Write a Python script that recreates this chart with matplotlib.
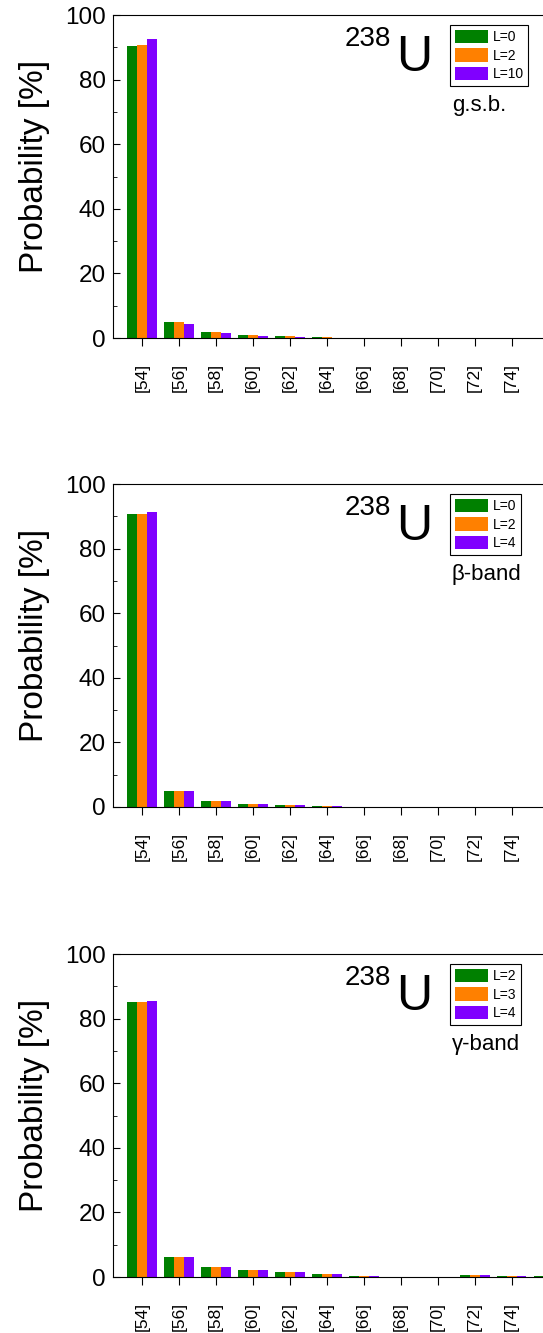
import numpy as np
import matplotlib
matplotlib.use('Agg')
import matplotlib.pyplot as plt
from matplotlib.ticker import MultipleLocator

plt.rcParams['font.family'] = ['Liberation Sans', 'DejaVu Sans']

categories = ['[54]', '[56]', '[58]', '[60]', '[62]', '[64]', '[66]', '[68]', '[70]', '[72]', '[74]', '[76]']

# g.s.b.
gsb_L0 = [90.5, 4.9, 1.8, 1.0, 0.6, 0.3, 0.1, 0.05, 0.05, 0.1, 0.1, 0.05]
gsb_L2 = [90.8, 4.9, 1.8, 1.0, 0.55, 0.3, 0.1, 0.05, 0.05, 0.1, 0.1, 0.05]
gsb_L10 = [92.5, 4.3, 1.45, 0.7, 0.4, 0.15, 0.05, 0.03, 0.03, 0.1, 0.1, 0.05]

# beta band
beta_L0 = [90.7, 4.9, 1.9, 1.0, 0.6, 0.35, 0.1, 0.05, 0.05, 0.1, 0.1, 0.05]
beta_L2 = [90.8, 4.9, 1.8, 1.0, 0.6, 0.3, 0.1, 0.05, 0.05, 0.1, 0.1, 0.05]
beta_L4 = [91.2, 4.8, 1.8, 0.95, 0.5, 0.3, 0.1, 0.05, 0.05, 0.1, 0.1, 0.05]

# gamma band
gam_L2 = [85.0, 6.2, 3.1, 2.1, 1.45, 0.8, 0.4, 0.1, 0.15, 0.6, 0.4, 0.4]
gam_L3 = [85.2, 6.2, 3.1, 2.1, 1.4, 0.8, 0.4, 0.1, 0.15, 0.6, 0.4, 0.4]
gam_L4 = [85.5, 6.2, 3.1, 2.1, 1.4, 0.8, 0.4, 0.1, 0.15, 0.6, 0.4, 0.4]

colors = ['#008000', '#ff8000', '#8000ff']

panels = [
    (0.7464, [gsb_L0, gsb_L2, gsb_L10], ['L=0', 'L=2', 'L=10'], 'g.s.b.'),
    (0.3946, [beta_L0, beta_L2, beta_L4], ['L=0', 'L=2', 'L=4'], 'β-band'),
    (0.042, [gam_L2, gam_L3, gam_L4], ['L=2', 'L=3', 'L=4'], 'γ-band'),
]

fig = plt.figure(figsize=(5.43, 13.33), dpi=100)
x = np.arange(len(categories))
w = 0.27

for bottom, series, labels, band in panels:
    ax = fig.add_axes([0.208, bottom, 0.86, 0.2423])
    for i, (vals, lab) in enumerate(zip(series, labels)):
        ax.bar(x + (i - 1) * w, vals, w, color=colors[i], label=lab)
    ax.set_xlim(-0.78, 11.85)
    ax.set_ylim(0, 100)
    ax.set_xticks(x[:11])
    ax.set_xticklabels(categories[:11], rotation=90, fontsize=12.5)
    ax.yaxis.set_major_locator(MultipleLocator(20))
    ax.yaxis.set_minor_locator(MultipleLocator(10))
    ax.tick_params(axis='y', which='both', direction='in', labelsize=17.5, pad=5)
    ax.tick_params(axis='y', which='major', length=5)
    ax.tick_params(axis='y', which='minor', length=3)
    ax.tick_params(axis='x', direction='out', length=6, pad=12)
    ax.set_ylabel('Probability [%]', fontsize=24)
    ax.yaxis.set_label_coords(-0.135, 0.53)
    leg = ax.legend(loc='upper left', bbox_to_anchor=(0.722, 0.969), fontsize=10,
                    handlelength=2.4, handleheight=1.1, labelspacing=0.3,
                    borderpad=0.35, handletextpad=0.3, borderaxespad=0,
                    fancybox=False, edgecolor='black', framealpha=1)
    leg.get_frame().set_linewidth(0.8)
    ax.text(0.497, 0.965, '238', transform=ax.transAxes, fontsize=20, va='top', ha='left')
    ax.text(0.606, 0.938, 'U', transform=ax.transAxes, fontsize=36, va='top', ha='left')
    ax.text(0.726, 0.72, band, transform=ax.transAxes, fontsize=16, va='center', ha='left')

fig.savefig('out.png', dpi=100)
